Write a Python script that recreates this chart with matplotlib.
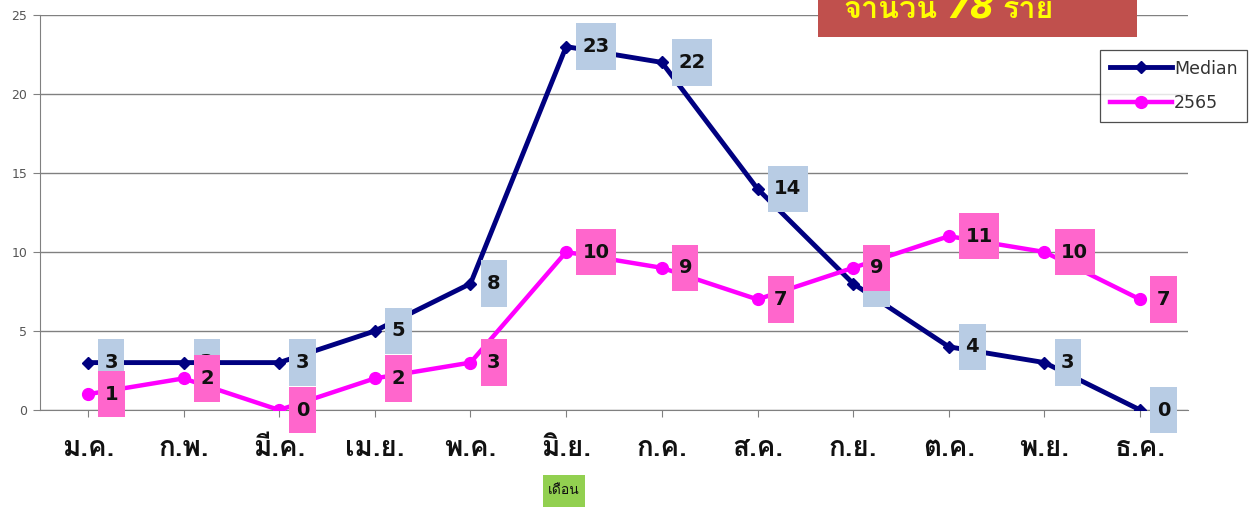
import numpy as np
import matplotlib
matplotlib.use("Agg")
import matplotlib.pyplot as plt
from matplotlib import font_manager, ft2font
from matplotlib.path import Path
from matplotlib.patches import Rectangle

months = ['ม.ค.', 'ก.พ.', 'มี.ค.', 'เม.ย.', 'พ.ค.', 'มิ.ย.',
          'ก.ค.', 'ส.ค.', 'ก.ย.', 'ต.ค.', 'พ.ย.', 'ธ.ค.']
median = [3, 3, 3, 5, 8, 23, 22, 14, 8, 4, 3, 0]
y2565 = [1, 2, 0, 2, 3, 10, 9, 7, 9, 11, 10, 7]
yticks = [0, 5, 10, 15, 20, 25]
total = 78


# find something installed that can draw Thai
def thai_font():
    for f in font_manager.fontManager.ttflist:
        try:
            if 0x0E01 in ft2font.FT2Font(f.fname).get_charmap():
                return f.name
        except Exception:
            pass
    return 'DejaVu Sans'


thai = thai_font()
plt.rcParams['font.family'] = ['DejaVu Sans', thai]


# square box with separate side / top-bottom padding (fraction of font size)
def padbox(fx, fy):
    def box(x0, y0, width, height, mutation_size):
        px = fx * mutation_size
        py = fy * mutation_size
        return Path([(x0 - px, y0 - py), (x0 + width + px, y0 - py),
                     (x0 + width + px, y0 + height + py), (x0 - px, y0 + height + py),
                     (x0 - px, y0 - py)], closed=True)
    return box


fig = plt.figure(figsize=(12.56, 5.08), dpi=100)
ax = fig.add_axes([40 / 1256, 1 - 410 / 508, 1148 / 1256, 395 / 508])

x = np.arange(len(months))
l1, = ax.plot(x, median, color='#000080', lw=3.5, marker='D', ms=6, zorder=3, label='Median')
l2, = ax.plot(x, y2565, color='#ff00ff', lw=3.2, marker='o', ms=8.5, zorder=3, label='2565')

for xi, v in zip(x, median):
    ax.annotate(str(v), (xi, v), xytext=(12, 0), textcoords='offset points',
                ha='left', va='center', fontsize=14, fontweight='bold', color='#111111',
                bbox=dict(boxstyle=padbox(0.33, 0.7), fc='#b8cce4', ec='none'),
                zorder=4, annotation_clip=False)
for xi, v in zip(x, y2565):
    ax.annotate(str(v), (xi, v), xytext=(12, 0), textcoords='offset points',
                ha='left', va='center', fontsize=14, fontweight='bold', color='#111111',
                bbox=dict(boxstyle=padbox(0.33, 0.7), fc='#ff66cc', ec='none'),
                zorder=5, annotation_clip=False)

ax.set_xlim(-0.5, len(months) - 0.5)
ax.set_ylim(0, 25)
ax.set_yticks(yticks)
ax.set_xticks(x)
ax.set_xticklabels(months, family=[thai, 'DejaVu Sans'], fontsize=20, fontweight='bold',
                   color='#111111')
ax.tick_params(axis='x', length=5, color='#808080', pad=14)
ax.tick_params(axis='y', length=5, color='#808080', labelsize=9, labelcolor='#555555', pad=4)
ax.grid(axis='y', color='#808080', lw=1)
ax.set_axisbelow(True)
for s in ['top', 'right']:
    ax.spines[s].set_visible(False)
for s in ['left', 'bottom']:
    ax.spines[s].set_color('#808080')

# month caption under the axis
fig.text(564 / 1256, 1 - 491 / 508, 'เดือน', ha='center', va='center', fontsize=10,
         family=[thai, 'DejaVu Sans'], color='#111111',
         bbox=dict(boxstyle=padbox(0.4, 0.75), fc='#92d050', ec='none'))

# red total box, cut at the top edge
fig.patches.append(Rectangle((818 / 1256, 1 - 37 / 508), 319 / 1256, 40 / 508,
                             transform=fig.transFigure, fc='#c0504d', ec='none', zorder=5))
tkw = dict(ha='left', va='baseline', fontweight='bold', color='#ffff00', zorder=6)
fig.text(843 / 1256, 1 - 18 / 508, 'จำนวน', fontsize=22, family=[thai, 'DejaVu Sans'], **tkw)
fig.text(946 / 1256, 1 - 18 / 508, str(total), fontsize=25, style='italic',
         family='DejaVu Sans', **tkw)
fig.text(1002 / 1256, 1 - 18 / 508, 'ราย', fontsize=22, family=[thai, 'DejaVu Sans'], **tkw)

leg = fig.legend(handles=[l1, l2], loc='upper left', bbox_to_anchor=(1100 / 1256, 1 - 50 / 508),
                 fontsize=12.5, frameon=True, fancybox=False, edgecolor='#222222',
                 handlelength=3.6, handletextpad=0.1, labelspacing=0.95, borderpad=0.55,
                 borderaxespad=0)
leg.get_frame().set_linewidth(0.9)
for t in leg.get_texts():
    t.set_color('#333333')

fig.savefig('out.png', dpi=100)
